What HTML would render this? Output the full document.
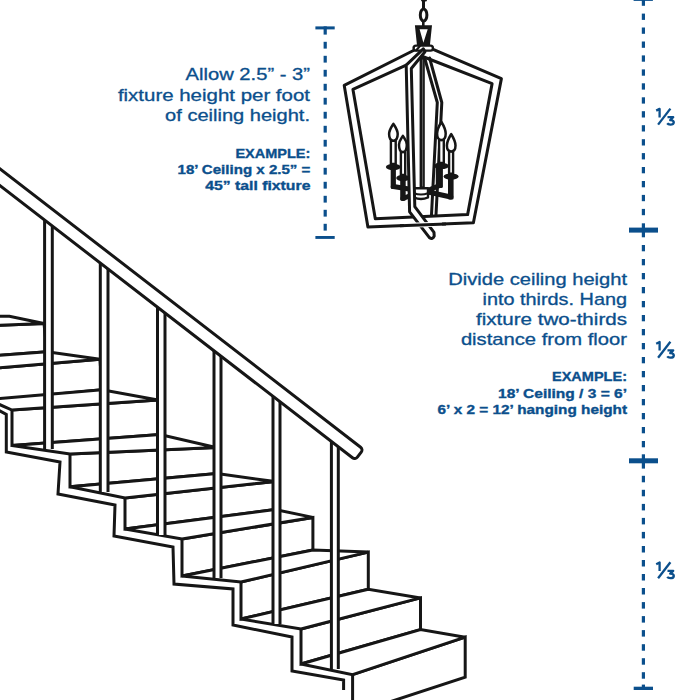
<!DOCTYPE html>
<html><head><meta charset="utf-8"><style>
html,body{margin:0;padding:0;background:#fff;}
svg{display:block;}
</style></head><body>
<svg width="700" height="700" viewBox="0 0 700 700">
<rect width="700" height="700" fill="#fff"/>
<g fill="#fff" stroke="#161616" stroke-width="3.0" stroke-linejoin="miter"><polygon points="-104.0,329.3 44.0,323.5 47.0,351.8 -104.0,363.0"/><polygon points="-104.0,329.3 44.0,323.5 9.4,316.2 -150.0,316.2"/><polygon points="-46.0,371.5 100.0,359.3 102.0,389.7 -46.0,404.0"/><polygon points="-46.0,371.5 100.0,359.3 47.0,351.8 -104.0,363.0"/><polygon points="12.0,410.0 158.0,400.0 160.0,434.5 12.0,445.5"/><polygon points="12.0,410.0 158.0,400.0 102.0,389.7 -12.0,399.5"/><polygon points="70.0,454.0 216.0,447.5 217.0,473.6 70.0,486.8"/><polygon points="70.0,454.0 216.0,447.5 160.0,434.5 12.0,445.5"/><polygon points="125.0,498.0 275.0,481.5 275.0,509.5 125.0,529.0"/><polygon points="125.0,498.0 275.0,481.5 217.0,473.6 70.0,486.8"/><polygon points="182.0,539.0 312.9,517.4 312.9,550.0 182.0,576.0"/><polygon points="182.0,539.0 312.9,517.4 275.0,509.5 125.0,529.0"/><polygon points="241.0,582.0 368.3,552.1 368.3,589.3 241.0,619.0"/><polygon points="241.0,582.0 368.3,552.1 312.9,550.0 182.0,576.0"/><polygon points="301.0,629.0 420.5,597.9 420.5,629.6 301.0,664.0"/><polygon points="301.0,629.0 420.5,597.9 368.3,589.3 241.0,619.0"/><polygon points="352.6,674.6 465.2,637.2 465.2,677.2 352.6,714.0"/><polygon points="352.6,674.6 465.2,637.2 420.5,629.6 301.0,664.0"/><polyline fill="none" points="-12.0,404.5 6.3,414.5 6.3,452.0 60.0,462.0 58.0,494.0 115.0,505.0 114.0,536.0 173.0,547.0 174.0,584.0 233.0,589.0 233.0,625.0 292.0,637.0 292.0,671.0 343.6,680.0 343.6,690.0"/></g><g stroke="#161616" stroke-width="3.0"><polygon fill="#fff" stroke="none" points="44.6,221.3 52.3,227.3 52.3,449.0 44.6,449.0"/><line x1="44.6" y1="218.3" x2="44.6" y2="449"/><line x1="52.3" y1="224.3" x2="52.3" y2="449"/><polygon fill="#fff" stroke="none" points="100.3,264.3 108.0,270.3 108.0,492.0 100.3,492.0"/><line x1="100.3" y1="261.3" x2="100.3" y2="492"/><line x1="108" y1="267.3" x2="108" y2="492"/><polygon fill="#fff" stroke="none" points="157.5,308.5 165.0,314.3 165.0,535.0 157.5,535.0"/><line x1="157.5" y1="305.5" x2="157.5" y2="535"/><line x1="165" y1="311.3" x2="165" y2="535"/><polygon fill="#fff" stroke="none" points="214.0,352.1 221.0,357.5 221.0,578.0 214.0,578.0"/><line x1="214" y1="349.1" x2="214" y2="578"/><line x1="221" y1="354.5" x2="221" y2="578"/><polygon fill="#fff" stroke="none" points="273.0,397.7 280.0,403.1 280.0,624.0 273.0,624.0"/><line x1="273" y1="394.7" x2="273" y2="624"/><line x1="280" y1="400.1" x2="280" y2="624"/><polygon fill="#fff" stroke="none" points="331.4,442.7 338.3,448.1 338.3,669.0 331.4,669.0"/><line x1="331.4" y1="439.7" x2="331.4" y2="669"/><line x1="338.3" y1="445.1" x2="338.3" y2="669"/></g><g transform="translate(359.3,454.6) rotate(37.67)"><rect x="-700" y="-6.65" width="700" height="13.3" rx="3.5" fill="#fff" stroke="#161616" stroke-width="3.0"/></g><g fill="#0b4f8c"><rect x="641.8" y="13.6" width="3.2" height="6.3"/><rect x="641.8" y="27.5" width="3.2" height="6.3"/><rect x="641.8" y="41.5" width="3.2" height="6.3"/><rect x="641.8" y="55.4" width="3.2" height="6.3"/><rect x="641.8" y="69.4" width="3.2" height="6.3"/><rect x="641.8" y="83.3" width="3.2" height="6.3"/><rect x="641.8" y="97.3" width="3.2" height="6.3"/><rect x="641.8" y="111.2" width="3.2" height="6.3"/><rect x="641.8" y="125.2" width="3.2" height="6.3"/><rect x="641.8" y="139.2" width="3.2" height="6.3"/><rect x="641.8" y="153.1" width="3.2" height="6.3"/><rect x="641.8" y="167.0" width="3.2" height="6.3"/><rect x="641.8" y="181.0" width="3.2" height="6.3"/><rect x="641.8" y="194.9" width="3.2" height="6.3"/><rect x="641.8" y="208.9" width="3.2" height="6.3"/><rect x="641.8" y="245.0" width="3.2" height="6.3"/><rect x="641.8" y="259.0" width="3.2" height="6.3"/><rect x="641.8" y="273.0" width="3.2" height="6.3"/><rect x="641.8" y="287.0" width="3.2" height="6.3"/><rect x="641.8" y="301.0" width="3.2" height="6.3"/><rect x="641.8" y="315.0" width="3.2" height="6.3"/><rect x="641.8" y="329.0" width="3.2" height="6.3"/><rect x="641.8" y="343.0" width="3.2" height="6.3"/><rect x="641.8" y="357.0" width="3.2" height="6.3"/><rect x="641.8" y="371.0" width="3.2" height="6.3"/><rect x="641.8" y="385.0" width="3.2" height="6.3"/><rect x="641.8" y="399.0" width="3.2" height="6.3"/><rect x="641.8" y="413.0" width="3.2" height="6.3"/><rect x="641.8" y="427.0" width="3.2" height="6.3"/><rect x="641.8" y="441.0" width="3.2" height="6.3"/><rect x="641.8" y="475.8" width="3.2" height="6.5"/><rect x="641.8" y="489.8" width="3.2" height="6.5"/><rect x="641.8" y="503.9" width="3.2" height="6.5"/><rect x="641.8" y="517.9" width="3.2" height="6.5"/><rect x="641.8" y="531.9" width="3.2" height="6.5"/><rect x="641.8" y="546.0" width="3.2" height="6.5"/><rect x="641.8" y="560.0" width="3.2" height="6.5"/><rect x="641.8" y="574.0" width="3.2" height="6.5"/><rect x="641.8" y="588.0" width="3.2" height="6.5"/><rect x="641.8" y="602.1" width="3.2" height="6.5"/><rect x="641.8" y="616.1" width="3.2" height="6.5"/><rect x="641.8" y="630.1" width="3.2" height="6.5"/><rect x="641.8" y="644.2" width="3.2" height="6.5"/><rect x="641.8" y="658.2" width="3.2" height="6.5"/><rect x="641.8" y="672.2" width="3.2" height="6.5"/><rect x="633.6" y="-4" width="19.3" height="4.9"/><rect x="641.8" y="0" width="3.2" height="5.8"/><rect x="629" y="227.6" width="29" height="5"/><rect x="641.8" y="223.3" width="3.2" height="14"/><rect x="629" y="458.3" width="29" height="5"/><rect x="641.8" y="454.3" width="3.2" height="14.3"/><rect x="633.7" y="686.7" width="19.3" height="3.3"/><rect x="641.8" y="684.6" width="3.2" height="3"/><rect x="323.6" y="41.8" width="3.2" height="6.8"/><rect x="323.6" y="55.8" width="3.2" height="6.8"/><rect x="323.6" y="69.8" width="3.2" height="6.8"/><rect x="323.6" y="83.8" width="3.2" height="6.8"/><rect x="323.6" y="97.8" width="3.2" height="6.8"/><rect x="323.6" y="111.8" width="3.2" height="6.8"/><rect x="323.6" y="125.8" width="3.2" height="6.8"/><rect x="323.6" y="139.8" width="3.2" height="6.8"/><rect x="323.6" y="153.8" width="3.2" height="6.8"/><rect x="323.6" y="167.8" width="3.2" height="6.8"/><rect x="323.6" y="181.8" width="3.2" height="6.8"/><rect x="323.6" y="195.8" width="3.2" height="6.8"/><rect x="323.6" y="209.8" width="3.2" height="6.8"/><rect x="323.6" y="223.8" width="3.2" height="6.8"/><rect x="315.4" y="26.4" width="19.3" height="3"/><rect x="323.6" y="26.4" width="3.2" height="8.2"/><rect x="315.4" y="236" width="19.3" height="2.9"/></g><g fill="none" stroke="#0b4f8c" stroke-width="2.3" stroke-linecap="butt" stroke-linejoin="round"><path d="M656.2,110.6 L659.6,108.9 L659.6,117.4"/><path d="M658.1,124.6 L670.4,108.6"/><path d="M667.5,117.2 L673.2,117.2 L670.2,120.1 Q673.8,120.2 673.8,122.4 Q673.5,124.7 670.2,124.6 Q668.1,124.5 667.2,123.3"/></g><g fill="none" stroke="#0b4f8c" stroke-width="2.3" stroke-linecap="butt" stroke-linejoin="round"><path d="M656.2,343.7 L659.6,342.0 L659.6,350.5"/><path d="M658.1,357.7 L670.4,341.7"/><path d="M667.5,350.3 L673.2,350.3 L670.2,353.2 Q673.8,353.3 673.8,355.5 Q673.5,357.8 670.2,357.7 Q668.1,357.6 667.2,356.4"/></g><g fill="none" stroke="#0b4f8c" stroke-width="2.3" stroke-linecap="butt" stroke-linejoin="round"><path d="M656.2,564.2 L659.6,562.5 L659.6,571.0"/><path d="M658.1,578.2 L670.4,562.2"/><path d="M667.5,570.8 L673.2,570.8 L670.2,573.7 Q673.8,573.8 673.8,576.0 Q673.5,578.3 670.2,578.2 Q668.1,578.1 667.2,576.9"/></g><text x="310.0" y="80.4" text-anchor="end" font-family="Liberation Sans, sans-serif" font-size="15.9" font-weight="400" fill="#0b4f8c" stroke="#0b4f8c" stroke-width="0.3" textLength="124.5" lengthAdjust="spacingAndGlyphs">Allow 2.5” - 3”</text><text x="310.0" y="101.2" text-anchor="end" font-family="Liberation Sans, sans-serif" font-size="15.9" font-weight="400" fill="#0b4f8c" stroke="#0b4f8c" stroke-width="0.3" textLength="192.1" lengthAdjust="spacingAndGlyphs">fixture height per foot</text><text x="310.0" y="120.6" text-anchor="end" font-family="Liberation Sans, sans-serif" font-size="15.9" font-weight="400" fill="#0b4f8c" stroke="#0b4f8c" stroke-width="0.3" textLength="144.9" lengthAdjust="spacingAndGlyphs">of ceiling height.</text><text x="310.4" y="158.0" text-anchor="end" font-family="Liberation Sans, sans-serif" font-size="12.8" font-weight="700" fill="#0b4f8c" stroke="#0b4f8c" stroke-width="0.35" textLength="75.0" lengthAdjust="spacingAndGlyphs">EXAMPLE:</text><text x="310.4" y="174.0" text-anchor="end" font-family="Liberation Sans, sans-serif" font-size="12.8" font-weight="700" fill="#0b4f8c" stroke="#0b4f8c" stroke-width="0.35" textLength="132.9" lengthAdjust="spacingAndGlyphs">18’ Ceiling x 2.5” =</text><text x="310.4" y="189.8" text-anchor="end" font-family="Liberation Sans, sans-serif" font-size="12.8" font-weight="700" fill="#0b4f8c" stroke="#0b4f8c" stroke-width="0.35" textLength="105.1" lengthAdjust="spacingAndGlyphs">45” tall fixture</text><text x="627.0" y="285.1" text-anchor="end" font-family="Liberation Sans, sans-serif" font-size="15.9" font-weight="400" fill="#0b4f8c" stroke="#0b4f8c" stroke-width="0.3" textLength="178.7" lengthAdjust="spacingAndGlyphs">Divide ceiling height</text><text x="627.0" y="305.3" text-anchor="end" font-family="Liberation Sans, sans-serif" font-size="15.9" font-weight="400" fill="#0b4f8c" stroke="#0b4f8c" stroke-width="0.3" textLength="144.5" lengthAdjust="spacingAndGlyphs">into thirds. Hang</text><text x="627.0" y="325.1" text-anchor="end" font-family="Liberation Sans, sans-serif" font-size="15.9" font-weight="400" fill="#0b4f8c" stroke="#0b4f8c" stroke-width="0.3" textLength="151.0" lengthAdjust="spacingAndGlyphs">fixture two-thirds</text><text x="627.0" y="344.8" text-anchor="end" font-family="Liberation Sans, sans-serif" font-size="15.9" font-weight="400" fill="#0b4f8c" stroke="#0b4f8c" stroke-width="0.3" textLength="166.1" lengthAdjust="spacingAndGlyphs">distance from floor</text><text x="627.0" y="381.2" text-anchor="end" font-family="Liberation Sans, sans-serif" font-size="12.8" font-weight="700" fill="#0b4f8c" stroke="#0b4f8c" stroke-width="0.35" textLength="75.0" lengthAdjust="spacingAndGlyphs">EXAMPLE:</text><text x="627.0" y="397.6" text-anchor="end" font-family="Liberation Sans, sans-serif" font-size="12.8" font-weight="700" fill="#0b4f8c" stroke="#0b4f8c" stroke-width="0.35" textLength="129.0" lengthAdjust="spacingAndGlyphs">18’ Ceiling / 3 = 6’</text><text x="627.0" y="414.4" text-anchor="end" font-family="Liberation Sans, sans-serif" font-size="12.8" font-weight="700" fill="#0b4f8c" stroke="#0b4f8c" stroke-width="0.35" textLength="189.5" lengthAdjust="spacingAndGlyphs">6’ x 2 = 12’ hanging height</text><g fill="none" stroke="#161616" stroke-width="3.0" stroke-linejoin="round" stroke-linecap="round"><path d="M414.5,50 L344.2,85.3 L367.9,226.9 L473.4,222.8 L501.4,78.6 L431.4,48.6"/><path d="M406.2,65.2 L352.9,89.3 L375.3,218.7 L467.6,214.6 L492.1,83.6 L422.6,56.5"/><path d="M424.5,57.5 L437.3,102.5 L431.5,215" /><path d="M429.6,58 L441.8,102.5 L436,215" /><path d="M422.2,57 L422.2,187" stroke-width="5.2" stroke-linecap="butt"/><path d="M422.6,60 L422.6,186" stroke="#777" stroke-width="0.8"/><rect x="422.0" y="-2" width="3" height="10" fill="#161616" stroke="none"/><rect x="421" y="-3" width="6" height="4.5" rx="1.5" fill="#161616" stroke="none"/><ellipse cx="423.6" cy="15" rx="3.3" ry="6.0" fill="none" stroke-width="3"/><rect x="422.0" y="21.5" width="2.6" height="4.5" fill="#161616" stroke="none"/><path d="M414.9,25.3 L432,25.3 L429.9,45.6 L417,45.6 Z M419.6,29.3 L427.7,29.3 L423.4,42.8 Z" fill-rule="evenodd" stroke="none" fill="#161616"/><rect x="413.6" y="45.6" width="19.3" height="5" rx="2.4" fill="#fff" stroke-width="2.4"/><path d="M416,50.5 L420,46" stroke-width="2"/><rect x="390.9" y="140.7" width="4.8" height="23.3" fill="#fff" stroke-width="2.4"/><path d="M393.4,123.8 C394.9,126.3 397.7,129.6 397.7,134.1 C397.7,138.7 395.8,140.7 393.4,140.7 C391.0,140.7 389.1,138.7 389.1,134.1 C389.1,129.6 391.9,126.3 393.4,123.8 Z" fill="#fff" stroke-width="2.5"/><rect x="390.7" y="164.0" width="5.2" height="25.0" rx="1.5" fill="#161616" stroke="none"/><ellipse cx="393.3" cy="167.0" rx="7.4" ry="3.2" fill="#161616" stroke="none"/><rect x="439.1" y="140.0" width="4.7" height="22.9" fill="#fff" stroke-width="2.4"/><path d="M441.4,121.9 C442.9,124.4 445.7,129.0 445.7,133.5 C445.7,138.0 443.8,140.0 441.4,140.0 C439.0,140.0 437.1,138.0 437.1,133.5 C437.1,129.0 439.9,124.4 441.4,121.9 Z" fill="#fff" stroke-width="2.5"/><rect x="435.8" y="162.9" width="7.1" height="25.1" rx="1.5" fill="#161616" stroke="none"/><ellipse cx="441.4" cy="165.9" rx="7.5" ry="3.2" fill="#161616" stroke="none"/><path d="M393.3,186.5 L412,189.5" stroke-width="5" stroke-linecap="round"/><path d="M439.5,185.5 L429,190" stroke-width="5" stroke-linecap="round"/><rect x="400.9" y="152.1" width="4.3" height="22.9" fill="#fff" stroke-width="2.4"/><path d="M402.9,135.79999999999998 C404.3,138.3 406.8,140.3 406.8,144.8 C406.8,150.1 405.0,152.1 402.9,152.1 C400.8,152.1 399.0,150.1 399.0,144.8 C399.0,140.3 401.5,138.3 402.9,135.79999999999998 Z" fill="#fff" stroke-width="2.5"/><rect x="400.2" y="175.0" width="5.5" height="25.7" rx="1.5" fill="#161616" stroke="none"/><ellipse cx="403.0" cy="178.0" rx="6.8" ry="3.2" fill="#161616" stroke="none"/><rect x="449.1" y="151.4" width="4.0" height="22.2" fill="#fff" stroke-width="2.4"/><path d="M451.2,134.1 C452.7,136.6 455.5,141.0 455.5,145.5 C455.5,149.4 453.6,151.4 451.2,151.4 C448.8,151.4 446.9,149.4 446.9,145.5 C446.9,141.0 449.7,136.6 451.2,134.1 Z" fill="#fff" stroke-width="2.5"/><rect x="448.0" y="173.6" width="5.6" height="25.9" rx="1.5" fill="#161616" stroke="none"/><ellipse cx="451.1" cy="176.6" rx="7.5" ry="3.2" fill="#161616" stroke="none"/><path d="M403,198.5 L412,195" stroke-width="5" stroke-linecap="round"/><path d="M450.8,197 L428,192" stroke-width="5" stroke-linecap="round"/><path d="M414,188.2 L428,188.2 L428,197.5 Q421,200.5 414,197.5 Z" fill="#fff" stroke-width="2.4"/><path d="M414,193.2 Q421,195.8 428,193.2" stroke-width="2.2"/><path d="M423.3,48.8 L406.2,65.2 L409.6,211.8 L429.6,237.8 Q432.5,239.8 434.2,236.2 L434,232.3 L414.8,206.6 L411.3,68.5 L425,51.8 Z" fill="#fff" /><path d="M404,225.5 L442,224.0" stroke="#fff" stroke-width="4.8" stroke-linecap="butt"/><path d="M400,225.7 L446,223.9" stroke-linecap="butt"/></g>
</svg>
</body></html>
